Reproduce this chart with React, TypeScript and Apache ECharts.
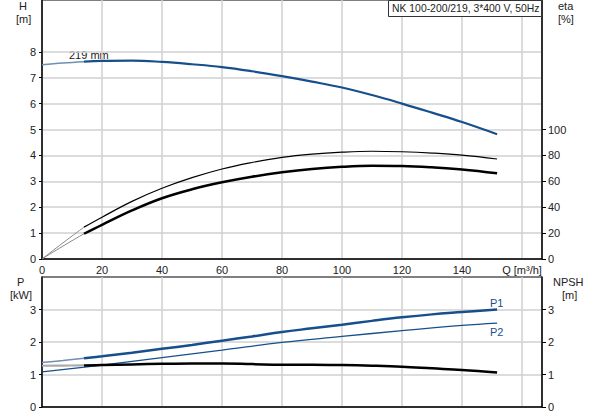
import React, { useEffect, useRef } from 'react';
import * as echarts from 'echarts';

// flow rate points (m³/h)
const leadQ = [0, 7, 14];
const flowQ = [14, 20, 30, 40, 50, 60, 70, 80, 90, 100, 110, 120, 130, 140, 151.7];
const p2Q = [0, 20, 40, 60, 80, 100, 120, 140, 151.7];

// head H [m]
const headLead = [7.5, 7.57, 7.62];
const headValues = [7.62, 7.65, 7.66, 7.61, 7.52, 7.41, 7.25, 7.06, 6.85, 6.62, 6.33, 6.0, 5.65, 5.29, 4.82];

// efficiency eta [%]
const etaTotalLead = [0, 12.5, 24.6];
const etaTotal = [24.6, 32.3, 44.5, 54.6, 62.8, 69.5, 74.5, 78.5, 81, 82.5, 83.2, 82.8, 81.8, 80.2, 77.2];
const etaPumpLead = [0, 10, 19.5];
const etaPump = [19.5, 26.4, 37.5, 46.9, 53.8, 59.2, 63.5, 66.9, 69.5, 71.2, 72, 71.8, 70.8, 69.2, 66.2];

// power P [kW]
const p1Lead = [1.37, 1.43, 1.5];
const p1Values = [1.5, 1.56, 1.67, 1.79, 1.91, 2.04, 2.17, 2.31, 2.42, 2.53, 2.65, 2.76, 2.85, 2.92, 3.0];
const p2Values = [1.08, 1.29, 1.52, 1.75, 1.99, 2.17, 2.35, 2.51, 2.58];

// NPSH [m]
const npshLead = [1.27, 1.275, 1.28];
const npshValues = [1.28, 1.29, 1.31, 1.33, 1.34, 1.34, 1.32, 1.3, 1.3, 1.29, 1.27, 1.24, 1.19, 1.14, 1.06];

const xTicks = [0, 20, 40, 60, 80, 100, 120, 140, 160];
const hTicks = [0, 1, 2, 3, 4, 5, 6, 7, 8];
const etaTicks = [0, 20, 40, 60, 80, 100];
const pTicks = [0, 1, 2, 3];

const pair = (xs: number[], ys: number[]) => xs.map((x, i) => [x, ys[i]]);

const BLUE = '#174f8c';
const GRID_LINE = '#d0d0d0';
const FONT = 'Liberation Sans';

const App: React.FC = () => {
  const chartRef = useRef<HTMLDivElement>(null);

  useEffect(() => {
    document.body.style.margin = '0';
    if (!chartRef.current) return;
    const chart = echarts.init(chartRef.current, undefined, { renderer: 'svg' });

    const labelStyle = { color: '#222', fontSize: 11, fontFamily: FONT };
    const axisLineBlack = { show: true, lineStyle: { color: '#000', width: 1.5 } };
    const split = { show: true, lineStyle: { color: GRID_LINE, width: 1.5 } };
    const text = (left: number, top: number, s: string, fill = '#222') => ({
      type: 'text' as const,
      left,
      top,
      style: { text: s, fontSize: 11, fontFamily: FONT, fill },
    });

    const line = (
      name: string,
      xAxisIndex: number,
      yAxisIndex: number,
      data: number[][],
      color: string,
      width: number
    ) => ({
      name,
      type: 'line' as const,
      xAxisIndex,
      yAxisIndex,
      data,
      smooth: 0.4,
      showSymbol: false,
      silent: true,
      lineStyle: { color, width },
      z: 5,
    });

    chart.setOption({
      animation: false,
      textStyle: { fontFamily: FONT },
      grid: [
        { left: 42, right: 51, top: 0, height: 259, show: true, borderColor: '#000', borderWidth: 1 },
        { left: 42, right: 51, top: 277, height: 130, show: true, borderColor: '#000', borderWidth: 1 },
      ],
      xAxis: [
        {
          type: 'value',
          gridIndex: 0,
          min: 0,
          max: 500 / 3,
          interval: 20,
          axisLine: axisLineBlack,
          axisTick: { show: false },
          splitLine: split,
          axisLabel: {
            ...labelStyle,
            margin: 5,
            customValues: xTicks,
            formatter: (v: number) => (v === 160 ? 'Q [m³/h]' : String(v)),
          },
        },
        {
          type: 'value',
          gridIndex: 1,
          min: 0,
          max: 500 / 3,
          interval: 20,
          axisLine: axisLineBlack,
          axisTick: { show: false },
          axisLabel: { show: false },
          splitLine: split,
        },
      ],
      yAxis: [
        {
          type: 'value',
          gridIndex: 0,
          min: 0,
          max: 10,
          interval: 1,
          axisLine: axisLineBlack,
          axisTick: { show: true, length: 3, customValues: hTicks, lineStyle: { color: '#000' } },
          axisLabel: { ...labelStyle, margin: 6, customValues: hTicks },
          splitLine: split,
        },
        {
          type: 'value',
          gridIndex: 0,
          position: 'right',
          min: 0,
          max: 200,
          interval: 20,
          axisLine: axisLineBlack,
          axisTick: { show: true, length: 4, customValues: etaTicks, lineStyle: { color: '#000' } },
          axisLabel: { ...labelStyle, margin: 6, customValues: etaTicks },
          splitLine: { show: false },
        },
        {
          type: 'value',
          gridIndex: 1,
          min: 0,
          max: 4,
          interval: 1,
          axisLine: axisLineBlack,
          axisTick: { show: true, length: 3, customValues: pTicks, lineStyle: { color: '#000' } },
          axisLabel: { ...labelStyle, margin: 6, customValues: pTicks },
          splitLine: split,
        },
        {
          type: 'value',
          gridIndex: 1,
          position: 'right',
          min: 0,
          max: 4,
          interval: 1,
          axisLine: axisLineBlack,
          axisTick: { show: true, length: 4, customValues: pTicks, lineStyle: { color: '#000' } },
          axisLabel: { ...labelStyle, margin: 6, customValues: pTicks },
          splitLine: { show: false },
        },
      ],
      series: [
        line('H lead', 0, 0, pair(leadQ, headLead), '#6f8fb3', 1.5),
        line('H', 0, 0, pair(flowQ, headValues), BLUE, 2.2),
        line('eta total lead', 0, 1, pair(leadQ, etaTotalLead), '#888', 1),
        line('eta total', 0, 1, pair(flowQ, etaTotal), '#000', 1.2),
        line('eta pump lead', 0, 1, pair(leadQ, etaPumpLead), '#888', 1),
        line('eta pump', 0, 1, pair(flowQ, etaPump), '#000', 2.5),
        line('P1 lead', 1, 2, pair(leadQ, p1Lead), '#6f8fb3', 1.5),
        line('P1', 1, 2, pair(flowQ, p1Values), BLUE, 2.5),
        line('P2', 1, 2, pair(p2Q, p2Values), BLUE, 1.3),
        line('NPSH lead', 1, 3, pair(leadQ, npshLead), '#aaa', 2.2),
        line('NPSH', 1, 3, pair(flowQ, npshValues), '#000', 2.5),
      ],
      graphic: [
        text(19, 0, 'H'),
        text(16, 13, '[m]'),
        text(558, 0, 'eta'),
        text(558, 13, '[%]'),
        text(17, 276, 'P'),
        text(10, 289, '[kW]'),
        text(553, 276, 'NPSH'),
        text(562, 289, '[m]'),
        text(69, 49, '219 mm'),
        text(490, 297, 'P1', BLUE),
        text(490, 326, 'P2', BLUE),
        {
          type: 'rect',
          shape: { x: 388.5, y: 0.5, width: 153, height: 16 },
          style: { fill: '#fff', stroke: '#333', lineWidth: 1 },
          z: 10,
        },
        {
          type: 'text',
          x: 392,
          y: 3,
          z: 11,
          style: { text: 'NK 100-200/219, 3*400 V, 50Hz', fontSize: 10.4, fontFamily: FONT, fill: '#222' },
        },
      ],
    });

    return () => {
      chart.dispose();
    };
  }, []);

  return <div ref={chartRef} style={{ width: 593, height: 415 }}></div>;
};

export default App;
